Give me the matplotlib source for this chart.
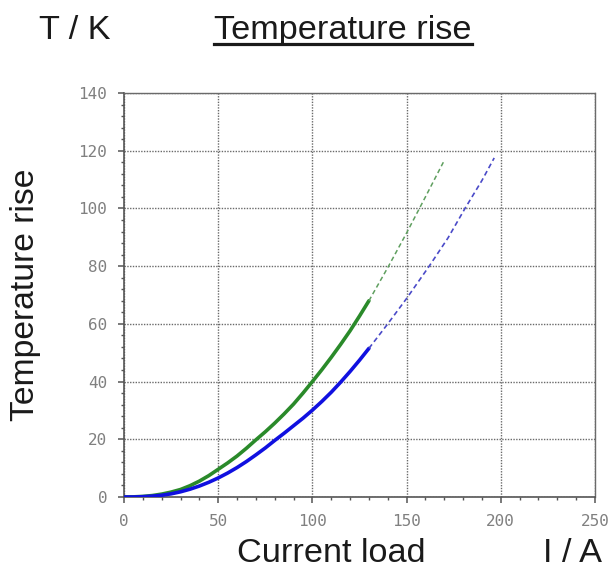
import matplotlib
matplotlib.use("Agg")
import matplotlib.pyplot as plt
from matplotlib.lines import Line2D
from matplotlib.ticker import MultipleLocator

# ---- data ----
green_I = [0, 5, 10, 15, 20, 25, 30, 35, 40, 45, 50, 55, 60, 65, 70, 75, 80, 85, 90,
           95, 100, 105, 110, 115, 120, 125, 130]
green_T = [0, 0.05, 0.2, 0.5, 1.0, 1.7, 2.6, 3.9, 5.5, 7.4, 9.6, 11.8, 14.2, 16.9, 19.8,
           22.6, 25.6, 28.8, 32.2, 36.0, 40.0, 44.1, 48.4, 52.9, 57.6, 62.7, 68.0]
green_ext_I = [130, 140, 150, 160, 169.5]
green_ext_T = [68.0, 79.5, 91.5, 104.0, 116.0]

blue_I = [0, 5, 10, 15, 20, 25, 30, 35, 40, 45, 50, 55, 60, 65, 70, 75, 80, 85, 90,
          95, 100, 105, 110, 115, 120, 125, 130]
blue_T = [0, 0, 0.1, 0.3, 0.6, 1.1, 1.8, 2.7, 3.8, 5.1, 6.6, 8.3, 10.2, 12.3, 14.6,
          17.0, 19.6, 22.1, 24.7, 27.3, 30.1, 33.1, 36.3, 39.8, 43.5, 47.4, 51.5]
blue_ext_I = [130, 140, 150, 162, 172, 181, 190, 196.5]
blue_ext_T = [51.5, 60.0, 68.8, 80.0, 89.8, 100.0, 109.7, 117.5]

x_ticks = [0, 50, 100, 150, 200, 250]
y_ticks = [0, 20, 40, 60, 80, 100, 120, 140]

W, H = 613, 570
fig = plt.figure(figsize=(W / 100, H / 100), dpi=100)
ax = fig.add_axes([124 / W, 1 - 497 / H, (595 - 124) / W, (497 - 93) / H])

green = "#2a8a2a"
blue = "#1010e0"
ax.plot(green_I, green_T, color=green, lw=2.6, solid_capstyle="round",
        solid_joinstyle="round", zorder=3)
ax.plot(green_ext_I, green_ext_T, color="#5f9f5f", lw=1.1, ls=(0, (3, 2)), zorder=3)
ax.plot(blue_I, blue_T, color=blue, lw=2.6, solid_capstyle="round",
        solid_joinstyle="round", zorder=3)
ax.plot(blue_ext_I, blue_ext_T, color="#4a4ac8", lw=1.2, ls=(0, (3, 2)), zorder=3)

ax.set_xlim(0, 250)
ax.set_ylim(0, 140)
ax.set_xticks(x_ticks)
ax.set_yticks(y_ticks)
ax.xaxis.set_minor_locator(MultipleLocator(10))
ax.yaxis.set_minor_locator(MultipleLocator(4))

ax.grid(True, which="major", color="#6a6a6a", ls=(0, (1, 1)), lw=1.0)
for s in ["top", "right"]:
    ax.spines[s].set_linestyle((0, (1, 1)))
    ax.spines[s].set_color("#6a6a6a")
    ax.spines[s].set_linewidth(1.0)
for s in ["left", "bottom"]:
    ax.spines[s].set_color("#555555")
    ax.spines[s].set_linewidth(1.2)

ax.tick_params(which="major", direction="out", length=4, width=1.1, color="#555555",
               pad=8, labelsize=11.5, labelcolor="#808080", top=False, right=False)
ax.tick_params(which="minor", direction="out", length=2.5, width=1.0, color="#555555",
               top=False, right=False)
for lab in ax.get_xticklabels() + ax.get_yticklabels():
    lab.set_fontfamily("DejaVu Sans Mono")

lab_font = dict(family=["Liberation Sans", "DejaVu Sans"], fontsize=24.7, color="#1a1a1a")
fig.text(39 / W, 1 - 39 / H, "T / K", ha="left", va="baseline", **lab_font)
t = fig.text(343 / W, 1 - 39 / H, "Temperature rise", ha="center", va="baseline", **lab_font)
fig.text(331 / W, 8 / H, "Current load", ha="center", va="baseline", **lab_font)
fig.text(602 / W, 8 / H, "I / A", ha="right", va="baseline", **lab_font)
fig.text(10 / W, 1 - 295 / H, "Temperature rise", ha="left", va="center", rotation=90,
         family=["Liberation Sans", "DejaVu Sans"], fontsize=24.3, color="#1a1a1a")

fig.canvas.draw()
bb = t.get_window_extent()
uy = 1 - 44 / H
fig.add_artist(Line2D([bb.x0 / W, bb.x1 / W], [uy, uy], transform=fig.transFigure,
                      color="#1a1a1a", lw=2.3))

fig.savefig("out.png", dpi=100)
